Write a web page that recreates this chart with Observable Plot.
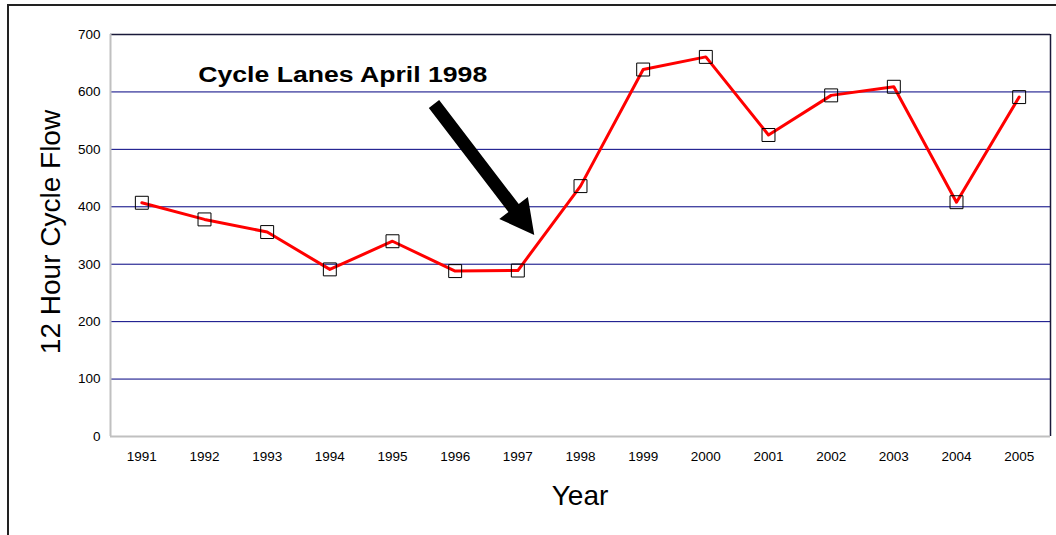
<!DOCTYPE html>
<html>
<head>
<meta charset="utf-8">
<script src="https://cdn.jsdelivr.net/npm/d3@7"></script>
<script src="https://cdn.jsdelivr.net/npm/@observablehq/plot@0.6"></script>
<style>
  html, body { margin: 0; padding: 0; background: white; }
</style>
</head>
<body>
<div id="chart"></div>
<script>
// ---- data ----
const years = [1991, 1992, 1993, 1994, 1995, 1996, 1997, 1998, 1999, 2000, 2001, 2002, 2003, 2004, 2005];
const flows = [407, 378, 356, 291, 340, 288, 289, 436, 639, 661, 525, 594, 609, 408, 591];
const yTicks = [0, 100, 200, 300, 400, 500, 600, 700];
const gridValues = [100, 200, 300, 400, 500, 600, 700];
const noteText = ["Cycle Lanes April 1998"];
const noteYear = [1991.9];
const noteValue = [630];
const arrowStart = [1995.67, 578];   // [year, value]
const arrowTip = [1997.27, 350];     // [year, value]
const yTitle = "12 Hour Cycle Flow";
const xTitle = "Year";

const data = years.map((y, i) => ({year: y, flow: flows[i]}));
const notes = noteText.map((t, i) => ({text: t, year: noteYear[i], value: noteValue[i]}));

const font = "'Liberation Sans', Arial, Helvetica, sans-serif";

const plot = Plot.plot({
  width: 1056,
  height: 535,
  marginLeft: 110,
  marginRight: 6,
  marginTop: 34,
  marginBottom: 99,
  style: {fontFamily: font, fontSize: "13.5px", background: "white", color: "black"},
  x: {
    type: "linear",
    domain: [years[0] - 0.5, years[years.length - 1] + 0.5],
    ticks: years,
    tickFormat: d => String(d),
    tickSize: 0,
    tickPadding: 15,
    label: null
  },
  y: {
    domain: [0, 700],
    ticks: yTicks,
    tickSize: 0,
    tickPadding: 10,
    label: null
  },
  marks: [
    Plot.ruleY(gridValues, {stroke: "#000080", strokeWidth: 1}),
    Plot.ruleY([700], {stroke: "#1a1a3a", strokeWidth: 1.5}),
    Plot.ruleX([years[years.length - 1] + 0.5], {stroke: "#1a1a3a", strokeWidth: 1.5}),
    Plot.ruleX([years[0] - 0.5], {stroke: "#c0c0c0", strokeWidth: 2}),
    Plot.ruleY([0], {stroke: "#c0c0c0", strokeWidth: 2}),
    Plot.line(data, {x: "year", y: "flow", stroke: "#ff0000", strokeWidth: 3}),
    Plot.dot(data, {x: "year", y: "flow", symbol: "square", r: 7.3, stroke: "black", strokeWidth: 1, fill: "none"}),
    Plot.text(notes, {x: "year", y: "value", text: "text", textAnchor: "start", fontWeight: "bold", fontSize: 22, fill: "black"})
  ]
});

document.getElementById("chart").appendChild(plot);

const svg = d3.select(plot);
const xs = plot.scale("x"), ys = plot.scale("y");

// tick label size
const tickStrings = new Set([...years.map(String), ...yTicks.map(String)]);
svg.selectAll("text").filter(function() { return tickStrings.has(this.textContent.trim()); })
  .style("font-size", "13.5px");

// stretch annotation to the reference's width
svg.selectAll("text").filter(function() { return this.textContent === noteText[0]; })
  .attr("textLength", 289).attr("lengthAdjust", "spacingAndGlyphs");

// outer chart frame
svg.insert("rect", ":first-child")
  .attr("x", 8).attr("y", 5).attr("width", 1200).attr("height", 700)
  .attr("fill", "none").attr("stroke", "#222").attr("stroke-width", 2);

// arrow
const S = [xs.apply(arrowStart[0]), ys.apply(arrowStart[1])];
const T = [xs.apply(arrowTip[0]), ys.apply(arrowTip[1])];
const len = Math.hypot(T[0] - S[0], T[1] - S[1]);
const u = [(T[0] - S[0]) / len, (T[1] - S[1]) / len];
const n = [-u[1], u[0]];
const hw = 6.5, hh = 18, hl = 34;
const B = [T[0] - u[0] * hl, T[1] - u[1] * hl];
const pts = [
  [S[0] + n[0] * hw, S[1] + n[1] * hw],
  [B[0] + n[0] * hw, B[1] + n[1] * hw],
  [B[0] + n[0] * hh, B[1] + n[1] * hh],
  T,
  [B[0] - n[0] * hh, B[1] - n[1] * hh],
  [B[0] - n[0] * hw, B[1] - n[1] * hw],
  [S[0] - n[0] * hw, S[1] - n[1] * hw]
];
svg.append("polygon")
  .attr("points", pts.map(p => p.join(",")).join(" "))
  .attr("fill", "black");

// axis titles
svg.append("text")
  .attr("transform", "translate(60,232) rotate(-90)")
  .attr("text-anchor", "middle")
  .attr("font-family", font)
  .attr("font-size", 28)
  .attr("fill", "black")
  .text(yTitle);

svg.append("text")
  .attr("x", 580).attr("y", 505)
  .attr("text-anchor", "middle")
  .attr("font-family", font)
  .attr("font-size", 28)
  .attr("fill", "black")
  .text(xTitle);
</script>
</body>
</html>
